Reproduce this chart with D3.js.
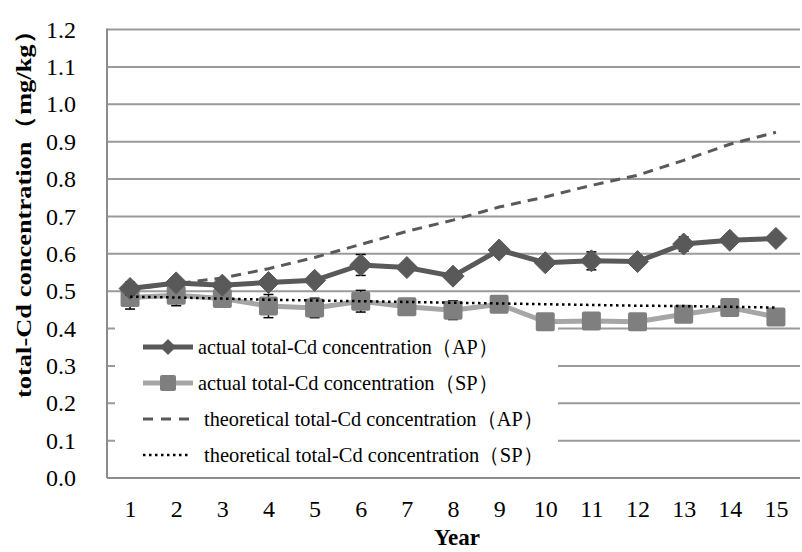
<!DOCTYPE html>
<html>
<head>
<meta charset="utf-8">
<script src="https://cdn.jsdelivr.net/npm/d3@7"></script>
<style>
  body { margin: 0; background: #fff; }
  text { font-family: "Liberation Serif", "Times New Roman", serif; fill: #000; }
</style>
</head>
<body>
<svg id="chart" width="802" height="552"></svg>
<script>
// years on the x axis
const years = [1, 2, 3, 4, 5, 6, 7, 8, 9, 10, 11, 12, 13, 14, 15];
const yTicks = [0, 0.1, 0.2, 0.3, 0.4, 0.5, 0.6, 0.7, 0.8, 0.9, 1.0, 1.1, 1.2];

const actualAP = [0.507, 0.522, 0.516, 0.523, 0.529, 0.57, 0.563, 0.54, 0.61, 0.576, 0.581, 0.579, 0.626, 0.636, 0.641];
const errAP    = [0.017, 0.01, 0.01, 0.012, 0.008, 0.028, 0.01, 0.008, 0.01, 0.008, 0.024, 0.008, 0.019, 0.01, 0.014];
const actualSP = [0.483, 0.489, 0.48, 0.46, 0.455, 0.473, 0.458, 0.449, 0.465, 0.418, 0.42, 0.418, 0.438, 0.456, 0.431];
const errSP    = [0.031, 0.028, 0.01, 0.031, 0.026, 0.029, 0.01, 0.025, 0.01, 0.01, 0.01, 0.01, 0.01, 0.01, 0.01];
const theoAP   = [0.505, 0.52, 0.535, 0.56, 0.59, 0.625, 0.66, 0.69, 0.725, 0.752, 0.783, 0.81, 0.85, 0.893, 0.925];
const theoSP   = [0.485, 0.483, 0.48, 0.477, 0.475, 0.473, 0.471, 0.469, 0.467, 0.465, 0.463, 0.461, 0.46, 0.458, 0.456];

const legendLabels = [
  "actual total-Cd concentration（AP）",
  "actual total-Cd concentration（SP）",
  "theoretical total-Cd concentration（AP）",
  "theoretical total-Cd concentration（SP）"
];

const svg = d3.select("#chart");
const plotL = 107, plotR = 800, plotT = 29.5, plotB = 478;

const x = d3.scalePoint().domain(years).range([plotL, 799]).padding(0.5);
const y = d3.scaleLinear().domain([0, 1.2]).range([plotB, plotT]);

// gridlines
svg.append("g")
  .selectAll("line")
  .data(yTicks.filter(d => d > 0))
  .join("line")
  .attr("x1", plotL).attr("x2", plotR)
  .attr("y1", d => y(d)).attr("y2", d => y(d))
  .attr("stroke", "#9a9a9a").attr("stroke-width", 2);

// axis lines
svg.append("line").attr("x1", plotL).attr("x2", plotL).attr("y1", plotT - 1).attr("y2", plotB)
  .attr("stroke", "#8c8c8c").attr("stroke-width", 2);
svg.append("line").attr("x1", plotL).attr("x2", plotR).attr("y1", plotB).attr("y2", plotB)
  .attr("stroke", "#8c8c8c").attr("stroke-width", 2);

// legend background hides the lower gridlines
svg.append("rect").attr("x", 115).attr("y", 322).attr("width", 443).attr("height", 155).attr("fill", "#fff");

// y axis
svg.append("g")
  .attr("transform", `translate(${plotL},0)`)
  .call(d3.axisLeft(y).tickValues(yTicks).tickFormat(d3.format(".1f")).tickSize(0).tickPadding(31))
  .call(g => g.select(".domain").remove())
  .selectAll("text").style("font-size", "24px").style("font-family", "Liberation Serif");

// x axis
svg.append("g")
  .attr("transform", `translate(0,${plotB})`)
  .call(d3.axisBottom(x).tickSize(0).tickPadding(22))
  .call(g => g.select(".domain").remove())
  .selectAll("text").style("font-size", "24px").style("font-family", "Liberation Serif");

// axis titles
svg.append("text")
  .attr("transform", "translate(23,208) rotate(-90)")
  .attr("text-anchor", "middle").attr("dominant-baseline", "central")
  .attr("textLength", 380).attr("lengthAdjust", "spacingAndGlyphs")
  .style("font-size", "22px").style("font-weight", "bold")
  .text("total-Cd concentration（mg/kg）");

svg.append("text")
  .attr("x", 457).attr("y", 545)
  .attr("text-anchor", "middle")
  .style("font-size", "23px").style("font-weight", "bold")
  .text("Year");

const line = d3.line().x((d, i) => x(years[i])).y(d => y(d));

// theoretical AP (dashed)
svg.append("path").datum(theoAP).attr("d", line)
  .attr("fill", "none").attr("stroke", "#595959").attr("stroke-width", 3)
  .attr("stroke-dasharray", "10,7");

// error bars
function errorBars(vals, errs) {
  const g = svg.append("g").attr("stroke", "#000").attr("stroke-width", 1.5);
  vals.forEach((v, i) => {
    const cx = x(years[i]);
    g.append("line").attr("x1", cx).attr("x2", cx).attr("y1", y(v - errs[i])).attr("y2", y(v + errs[i]));
    g.append("line").attr("x1", cx - 5).attr("x2", cx + 5).attr("y1", y(v - errs[i])).attr("y2", y(v - errs[i]));
    g.append("line").attr("x1", cx - 5).attr("x2", cx + 5).attr("y1", y(v + errs[i])).attr("y2", y(v + errs[i]));
  });
}

// actual SP (light line, squares)
svg.append("path").datum(actualSP).attr("d", line)
  .attr("fill", "none").attr("stroke", "#a6a6a6").attr("stroke-width", 5);
errorBars(actualSP, errSP);
svg.append("g").selectAll("rect").data(actualSP).join("rect")
  .attr("x", (d, i) => x(years[i]) - 9.5).attr("y", d => y(d) - 9.5)
  .attr("width", 19).attr("height", 19).attr("rx", 2)
  .attr("fill", "#7f7f7f");

// actual AP (dark line, diamonds)
svg.append("path").datum(actualAP).attr("d", line)
  .attr("fill", "none").attr("stroke", "#595959").attr("stroke-width", 5);
errorBars(actualAP, errAP);
const diamond = s => `M0,${-s}L${s},0L0,${s}L${-s},0Z`;
svg.append("g").selectAll("path").data(actualAP).join("path")
  .attr("transform", (d, i) => `translate(${x(years[i])},${y(d)})`)
  .attr("d", diamond(11))
  .attr("fill", "#595959").attr("stroke", "#595959").attr("stroke-linejoin", "round");

// theoretical SP (dotted)
svg.append("path").datum(theoSP).attr("d", line)
  .attr("fill", "none").attr("stroke", "#000").attr("stroke-width", 2.5)
  .attr("stroke-dasharray", "2.5,3.5");

// legend
const legendY = [347, 383, 419, 455];
const lg = svg.append("g");
lg.append("line").attr("x1", 143).attr("x2", 193).attr("y1", legendY[0]).attr("y2", legendY[0])
  .attr("stroke", "#595959").attr("stroke-width", 5);
lg.append("path").attr("transform", `translate(168,${legendY[0]})`).attr("d", diamond(8)).attr("fill", "#595959");
lg.append("line").attr("x1", 143).attr("x2", 193).attr("y1", legendY[1]).attr("y2", legendY[1])
  .attr("stroke", "#a6a6a6").attr("stroke-width", 5);
lg.append("rect").attr("x", 160).attr("y", legendY[1] - 8).attr("width", 16).attr("height", 16).attr("rx", 2).attr("fill", "#7f7f7f");
lg.append("line").attr("x1", 143).attr("x2", 193).attr("y1", legendY[2]).attr("y2", legendY[2])
  .attr("stroke", "#595959").attr("stroke-width", 3).attr("stroke-dasharray", "10,8");
lg.append("line").attr("x1", 143).attr("x2", 191).attr("y1", legendY[3]).attr("y2", legendY[3])
  .attr("stroke", "#000").attr("stroke-width", 2.5).attr("stroke-dasharray", "2.5,3.5");

lg.selectAll("text").data(legendLabels).join("text")
  .attr("x", (d, i) => i < 2 ? 198 : 204)
  .attr("y", (d, i) => legendY[i])
  .attr("dominant-baseline", "central")
  .attr("textLength", (d, i) => i < 2 ? 300 : 339)
  .attr("lengthAdjust", "spacingAndGlyphs")
  .style("font-size", "21px")
  .text(d => d);
</script>
</body>
</html>
